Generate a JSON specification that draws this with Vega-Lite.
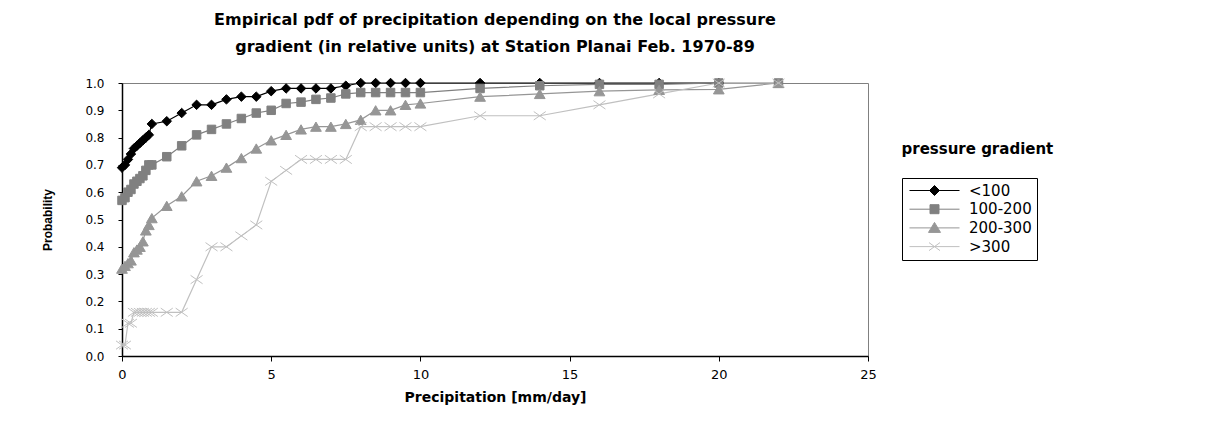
{
  "$schema": "https://vega.github.io/schema/vega-lite/v6.json",
  "width": 746,
  "height": 273,
  "padding": {"left": 41, "top": 12, "right": 5, "bottom": 5},
  "background": "white",
  "title": {
    "text": ["Empirical pdf of precipitation depending on the local pressure", "gradient (in relative units) at Station Planai Feb. 1970-89"],
    "font": "DejaVu Sans",
    "fontSize": 16,
    "fontWeight": "bold",
    "color": "black",
    "anchor": "middle",
    "frame": "group",
    "offset": 21,
    "lineHeight": 27
  },
  "data": {
    "values": [
      {"g": "<100", "x": 0, "p": 0.69}, {"g": "<100", "x": 0.1, "p": 0.70}, {"g": "<100", "x": 0.2, "p": 0.72}, {"g": "<100", "x": 0.3, "p": 0.74},
      {"g": "<100", "x": 0.4, "p": 0.76}, {"g": "<100", "x": 0.5, "p": 0.77}, {"g": "<100", "x": 0.6, "p": 0.78}, {"g": "<100", "x": 0.7, "p": 0.79},
      {"g": "<100", "x": 0.8, "p": 0.80}, {"g": "<100", "x": 0.9, "p": 0.81}, {"g": "<100", "x": 1.0, "p": 0.85}, {"g": "<100", "x": 1.5, "p": 0.86},
      {"g": "<100", "x": 2.0, "p": 0.89}, {"g": "<100", "x": 2.5, "p": 0.92}, {"g": "<100", "x": 3.0, "p": 0.92}, {"g": "<100", "x": 3.5, "p": 0.94},
      {"g": "<100", "x": 4.0, "p": 0.95}, {"g": "<100", "x": 4.5, "p": 0.95}, {"g": "<100", "x": 5.0, "p": 0.97}, {"g": "<100", "x": 5.5, "p": 0.98},
      {"g": "<100", "x": 6.0, "p": 0.98}, {"g": "<100", "x": 6.5, "p": 0.98}, {"g": "<100", "x": 7.0, "p": 0.98}, {"g": "<100", "x": 7.5, "p": 0.99},
      {"g": "<100", "x": 8.0, "p": 1.0}, {"g": "<100", "x": 8.5, "p": 1.0}, {"g": "<100", "x": 9.0, "p": 1.0}, {"g": "<100", "x": 9.5, "p": 1.0},
      {"g": "<100", "x": 10, "p": 1.0}, {"g": "<100", "x": 12, "p": 1.0}, {"g": "<100", "x": 14, "p": 1.0}, {"g": "<100", "x": 16, "p": 1.0},
      {"g": "<100", "x": 18, "p": 1.0}, {"g": "<100", "x": 20, "p": 1.0},

      {"g": "100-200", "x": 0, "p": 0.57}, {"g": "100-200", "x": 0.1, "p": 0.58}, {"g": "100-200", "x": 0.2, "p": 0.60}, {"g": "100-200", "x": 0.3, "p": 0.61},
      {"g": "100-200", "x": 0.4, "p": 0.63}, {"g": "100-200", "x": 0.5, "p": 0.64}, {"g": "100-200", "x": 0.6, "p": 0.65}, {"g": "100-200", "x": 0.7, "p": 0.66},
      {"g": "100-200", "x": 0.8, "p": 0.68}, {"g": "100-200", "x": 0.9, "p": 0.70}, {"g": "100-200", "x": 1.0, "p": 0.70}, {"g": "100-200", "x": 1.5, "p": 0.73},
      {"g": "100-200", "x": 2.0, "p": 0.77}, {"g": "100-200", "x": 2.5, "p": 0.81}, {"g": "100-200", "x": 3.0, "p": 0.83}, {"g": "100-200", "x": 3.5, "p": 0.85},
      {"g": "100-200", "x": 4.0, "p": 0.87}, {"g": "100-200", "x": 4.5, "p": 0.89}, {"g": "100-200", "x": 5.0, "p": 0.90}, {"g": "100-200", "x": 5.5, "p": 0.925},
      {"g": "100-200", "x": 6.0, "p": 0.93}, {"g": "100-200", "x": 6.5, "p": 0.94}, {"g": "100-200", "x": 7.0, "p": 0.945}, {"g": "100-200", "x": 7.5, "p": 0.96},
      {"g": "100-200", "x": 8.0, "p": 0.965}, {"g": "100-200", "x": 8.5, "p": 0.965}, {"g": "100-200", "x": 9.0, "p": 0.965}, {"g": "100-200", "x": 9.5, "p": 0.965},
      {"g": "100-200", "x": 10, "p": 0.965}, {"g": "100-200", "x": 12, "p": 0.98}, {"g": "100-200", "x": 14, "p": 0.99}, {"g": "100-200", "x": 16, "p": 0.995},
      {"g": "100-200", "x": 18, "p": 0.995}, {"g": "100-200", "x": 20, "p": 1.0}, {"g": "100-200", "x": 22, "p": 1.0},

      {"g": "200-300", "x": 0, "p": 0.32}, {"g": "200-300", "x": 0.1, "p": 0.33}, {"g": "200-300", "x": 0.2, "p": 0.34}, {"g": "200-300", "x": 0.3, "p": 0.35},
      {"g": "200-300", "x": 0.4, "p": 0.38}, {"g": "200-300", "x": 0.5, "p": 0.39}, {"g": "200-300", "x": 0.6, "p": 0.40}, {"g": "200-300", "x": 0.7, "p": 0.42},
      {"g": "200-300", "x": 0.8, "p": 0.46}, {"g": "200-300", "x": 0.9, "p": 0.48}, {"g": "200-300", "x": 1.0, "p": 0.505}, {"g": "200-300", "x": 1.5, "p": 0.55},
      {"g": "200-300", "x": 2.0, "p": 0.585}, {"g": "200-300", "x": 2.5, "p": 0.64}, {"g": "200-300", "x": 3.0, "p": 0.66}, {"g": "200-300", "x": 3.5, "p": 0.69},
      {"g": "200-300", "x": 4.0, "p": 0.725}, {"g": "200-300", "x": 4.5, "p": 0.76}, {"g": "200-300", "x": 5.0, "p": 0.79}, {"g": "200-300", "x": 5.5, "p": 0.81},
      {"g": "200-300", "x": 6.0, "p": 0.83}, {"g": "200-300", "x": 6.5, "p": 0.84}, {"g": "200-300", "x": 7.0, "p": 0.84}, {"g": "200-300", "x": 7.5, "p": 0.85},
      {"g": "200-300", "x": 8.0, "p": 0.865}, {"g": "200-300", "x": 8.5, "p": 0.90}, {"g": "200-300", "x": 9.0, "p": 0.90}, {"g": "200-300", "x": 9.5, "p": 0.92},
      {"g": "200-300", "x": 10, "p": 0.925}, {"g": "200-300", "x": 12, "p": 0.95}, {"g": "200-300", "x": 14, "p": 0.96}, {"g": "200-300", "x": 16, "p": 0.97},
      {"g": "200-300", "x": 18, "p": 0.975}, {"g": "200-300", "x": 20, "p": 0.977}, {"g": "200-300", "x": 22, "p": 1.0},

      {"g": ">300", "x": 0, "p": 0.04}, {"g": ">300", "x": 0.1, "p": 0.04}, {"g": ">300", "x": 0.2, "p": 0.12}, {"g": ">300", "x": 0.3, "p": 0.12},
      {"g": ">300", "x": 0.4, "p": 0.16}, {"g": ">300", "x": 0.5, "p": 0.16}, {"g": ">300", "x": 0.6, "p": 0.16}, {"g": ">300", "x": 0.7, "p": 0.16},
      {"g": ">300", "x": 0.8, "p": 0.16}, {"g": ">300", "x": 0.9, "p": 0.16}, {"g": ">300", "x": 1.0, "p": 0.16}, {"g": ">300", "x": 1.5, "p": 0.16},
      {"g": ">300", "x": 2.0, "p": 0.16}, {"g": ">300", "x": 2.5, "p": 0.28}, {"g": ">300", "x": 3.0, "p": 0.40}, {"g": ">300", "x": 3.5, "p": 0.40},
      {"g": ">300", "x": 4.0, "p": 0.44}, {"g": ">300", "x": 4.5, "p": 0.48}, {"g": ">300", "x": 5.0, "p": 0.64}, {"g": ">300", "x": 5.5, "p": 0.68},
      {"g": ">300", "x": 6.0, "p": 0.72}, {"g": ">300", "x": 6.5, "p": 0.72}, {"g": ">300", "x": 7.0, "p": 0.72}, {"g": ">300", "x": 7.5, "p": 0.72},
      {"g": ">300", "x": 8.0, "p": 0.84}, {"g": ">300", "x": 8.5, "p": 0.84}, {"g": ">300", "x": 9.0, "p": 0.84}, {"g": ">300", "x": 9.5, "p": 0.84},
      {"g": ">300", "x": 10, "p": 0.84}, {"g": ">300", "x": 12, "p": 0.88}, {"g": ">300", "x": 14, "p": 0.88}, {"g": ">300", "x": 16, "p": 0.92},
      {"g": ">300", "x": 18, "p": 0.96}, {"g": ">300", "x": 20, "p": 1.0}, {"g": ">300", "x": 22, "p": 1.0}
    ]
  },
  "layer": [
    {
      "encoding": {
        "x": {
          "field": "x", "type": "quantitative",
          "scale": {"domain": [0, 25], "nice": false, "zero": true},
          "axis": {
            "title": "Precipitation [mm/day]",
            "values": [0, 5, 10, 15, 20, 25],
            "labelFlush": false,
            "labelFont": "DejaVu Sans", "labelFontSize": 13, "labelPadding": 7,
            "titleFont": "DejaVu Sans", "titleFontSize": 14, "titleFontWeight": "bold", "titlePadding": 9,
            "tickSize": 5, "domainColor": "black", "tickColor": "black", "domainWidth": 1.5,
            "encode": {"ticks": {"update": {"y": {"value": -5}}}}
          }
        },
        "y": {
          "field": "p", "type": "quantitative",
          "scale": {"domain": [0, 1], "nice": false},
          "axis": {
            "title": "Probability",
            "values": [0, 0.1, 0.2, 0.3, 0.4, 0.5, 0.6, 0.7, 0.8, 0.9, 1.0],
            "format": ".1f",
            "labelOverlap": false,
            "labelFont": "DejaVu Sans", "labelFontSize": 12, "labelPadding": 14,
            "titleFont": "Liberation Sans", "titleFontSize": 12, "titleFontWeight": "bold", "titlePadding": 30,
            "tickSize": 4, "domainColor": "black", "tickColor": "black", "domainWidth": 1.5,
            "encode": {"ticks": {"update": {"x": {"value": 6}}}}
          }
        }
      },
      "layer": [
        {
          "mark": {"type": "line", "strokeWidth": 1.2},
          "encoding": {
            "color": {
              "field": "g", "type": "nominal",
              "scale": {"domain": ["<100", "100-200", "200-300", ">300"], "range": ["#000000", "#808080", "#969696", "#c0c0c0"]},
              "legend": {
                "title": null,
                "orient": "none",
                "legendX": 780,
                "legendY": 95,
                "strokeColor": "black",
                "fillColor": "white",
                "padding": 5,
                "symbolSize": 100,
                "symbolStrokeWidth": 1,
                "rowPadding": 2.7,
                "labelFont": "DejaVu Sans",
                "labelFontSize": 15,
                "labelColor": "black",
                "labelOffset": 47,
                "encode": {
                  "symbols": {
                    "update": {
                      "shape": {"signal": "datum.value === '<100' ? 'M-1,0L9,0M3,0L4,-1L5,0L4,1Z' : datum.value === '100-200' ? 'M-1,0L9,0M3.1,-0.9L4.9,-0.9L4.9,0.9L3.1,0.9Z' : datum.value === '200-300' ? 'M-1,0L9,0M2.8,0.9L5.2,0.9L4,-1.1Z' : 'M-1,0L9,0M2.9,-0.8L5.1,0.8M5.1,-0.8L2.9,0.8'"},
                      "fill": {"signal": "datum.value === '<100' ? '#000000' : datum.value === '100-200' ? '#808080' : datum.value === '200-300' ? '#969696' : 'transparent'"},
                      "stroke": {"signal": "datum.value === '<100' ? '#000000' : datum.value === '100-200' ? '#808080' : datum.value === '200-300' ? '#969696' : '#c0c0c0'"},
                      "strokeWidth": {"value": 1},
                      "size": {"value": 100},
                      "opacity": {"value": 1}
                    }
                  }
                }
              }
            },
            "detail": {"field": "g"}
          }
        },
        {
          "transform": [{"filter": "datum.g === '<100'"}],
          "mark": {"type": "point", "shape": "diamond", "size": 90, "filled": true, "fill": "#000000", "stroke": "#000000", "strokeWidth": 1, "opacity": 1}
        },
        {
          "transform": [{"filter": "datum.g === '100-200'"}],
          "mark": {"type": "point", "shape": "square", "size": 72, "filled": true, "fill": "#808080", "stroke": "#808080", "strokeWidth": 1, "opacity": 1}
        },
        {
          "transform": [{"filter": "datum.g === '200-300'"}],
          "mark": {"type": "point", "shape": "triangle-up", "size": 115, "filled": true, "fill": "#969696", "stroke": "#969696", "strokeWidth": 1, "opacity": 1}
        },
        {
          "transform": [{"filter": "datum.g === '>300'"}],
          "mark": {"type": "point", "shape": "M-1,-0.7L1,0.7M1,-0.7L-1,0.7", "size": 144, "filled": false, "stroke": "#c0c0c0", "strokeWidth": 1, "opacity": 1}
        }
      ]
    },
    {
      "mark": {"type": "point", "opacity": 0},
      "encoding": {
        "x": {"field": "x", "type": "quantitative"},
        "y": {
          "field": "p", "type": "quantitative",
          "scale": {"domain": [0, 1], "nice": false},
          "axis": {
            "orient": "right",
            "title": "pressure gradient",
            "domain": false, "ticks": false, "labels": false,
            "titleAngle": 0,
            "titleAlign": "left",
            "titleBaseline": "middle",
            "titleX": 33,
            "titleY": 65,
            "titleFont": "DejaVu Sans", "titleFontSize": 15, "titleFontWeight": "bold", "titleColor": "black"
          }
        }
      }
    }
  ],
  "resolve": {"scale": {"y": "independent"}},
  "config": {
    "view": {"stroke": "#808080", "strokeWidth": 1},
    "axis": {"grid": false, "labelColor": "black", "titleColor": "black"},
    "font": "DejaVu Sans"
  }
}
